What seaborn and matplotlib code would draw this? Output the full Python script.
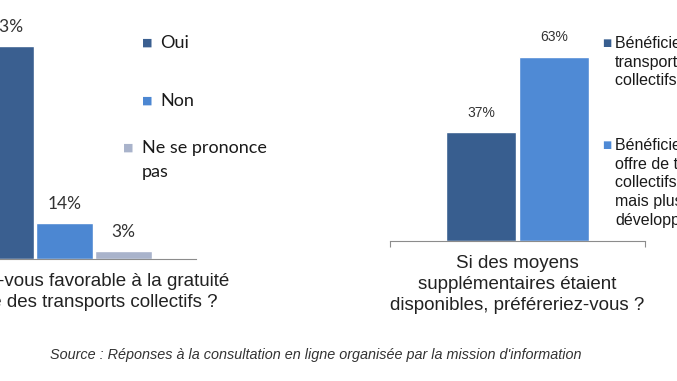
import matplotlib
matplotlib.use("Agg")
import matplotlib.pyplot as plt
import seaborn as sns

# Question 1 : gratuité totale
q1_labels = ["Oui", "Non", "Ne se prononce\npas"]
q1_values = [83, 14, 3]
q1_title = "Seriez-vous favorable à la gratuité\ntotale des transports collectifs ?"

# Question 2 : moyens supplémentaires
q2_labels = ["Bénéficier de\ntransports\ncollectifs gratuits",
             "Bénéficier d'une\noffre de transports\ncollectifs payante\nmais plus\ndéveloppée"]
q2_values = [37, 63]
q2_title = "Si des moyens\nsupplémentaires étaient\ndisponibles, préféreriez-vous ?"

source = "Source : Réponses à la consultation en ligne organisée par la mission d'information"

q1_colors = ["#3A5F90", "#4C87D2", "#A9B3CB"]
q2_colors = ["#385E8F", "#4F8AD5"]
text_color = "#333333"
axis_color = "#8C8C8C"

sns.set_style("white")
plt.rcParams["font.family"] = ["Liberation Sans", "DejaVu Sans"]

W, H = 677, 381
fig = plt.figure(figsize=(W / 100, H / 100), dpi=100)


def box(left, top_base, width, height):
    # pixel box (left, baseline from top) -> figure fraction
    return [left / W, (H - top_base) / H, width / W, height / H]


# left chart (cut off on the left like the original scan)
ax1 = fig.add_axes(box(-66.5, 259, 262, 231))
sns.barplot(x=list(range(len(q1_values))), y=q1_values, hue=list(range(len(q1_values))),
            palette=q1_colors, width=0.97, legend=False, saturation=1, ax=ax1)
ax1.set_xlim(-1.23, 3.23)
ax1.set_ylim(0, 90)
for c, v in zip(ax1.containers, q1_values):
    ax1.bar_label(c, labels=[f"{v}%"], padding=8, fontsize=12.5,
                  family=["Lato", "DejaVu Sans"], color=text_color)
ax1.set_xticks([])
ax1.set_yticks([])
sns.despine(ax=ax1, left=True)
ax1.spines["bottom"].set_color(axis_color)
ax1.set_xlabel(q1_title, fontsize=13.5, color="#222222", linespacing=1.32)
ax1.xaxis.set_label_coords(0.585, -0.061)
ax1.set_ylabel("")

# right chart
ax2 = fig.add_axes(box(390, 240.5, 255, 204.4))
sns.barplot(x=list(range(len(q2_values))), y=q2_values, hue=list(range(len(q2_values))),
            palette=q2_colors, width=0.97, legend=False, saturation=1, ax=ax2)
ax2.set_xlim(-1.247, 2.247)
ax2.set_ylim(0, 70)
for c, v in zip(ax2.containers, q2_values):
    ax2.bar_label(c, labels=[f"{v}%"], padding=9, fontsize=10, color=text_color)
ax2.set_xticks([-1.247, 2.247])
ax2.set_xticklabels(["", ""])
ax2.tick_params(axis="x", direction="out", length=4, color=axis_color, bottom=True)
ax2.set_yticks([])
sns.despine(ax=ax2, left=True)
ax2.spines["bottom"].set_color(axis_color)
ax2.set_xlabel(q2_title, fontsize=13.5, color="#222222", linespacing=1.32)
ax2.xaxis.set_label_coords(0.498, -0.071)
ax2.set_ylabel("")

# legend of question 1 (centred entries, as in the original)
q1_legend = [(147, 160, 42), (147, 160, 100), (128, 142, 147)]
for (mx, tx, ty), lab, col in zip(q1_legend, q1_labels, q1_colors):
    fig.text(mx / W, 1 - (ty + 4) / H, "■", color=col, fontsize=8,
             ha="center", va="baseline", family="DejaVu Sans")
    fig.text(tx / W, 1 - (ty - 6.7) / H, lab, fontsize=13, color="#1a1a1a",
             ha="left", va="top", linespacing=1.57, family=["Lato", "DejaVu Sans"])

# legend of question 2 (runs off the right edge)
q2_legend = [(607, 615, 42), (607, 615, 144)]
for (mx, tx, ty), lab, col in zip(q2_legend, q2_labels, q2_colors):
    fig.text(mx / W, 1 - (ty + 4) / H, "■", color=col, fontsize=7,
             ha="center", va="baseline", family="DejaVu Sans")
    fig.text(tx / W, 1 - (ty - 6.2) / H, lab, fontsize=11.5, color="#1a1a1a",
             ha="left", va="top", linespacing=1.31)

fig.text(50 / W, 1 - 355 / H, source, fontsize=10.4, style="italic",
         color="#333333", ha="left", va="center")

fig.savefig("out.png", dpi=100)
